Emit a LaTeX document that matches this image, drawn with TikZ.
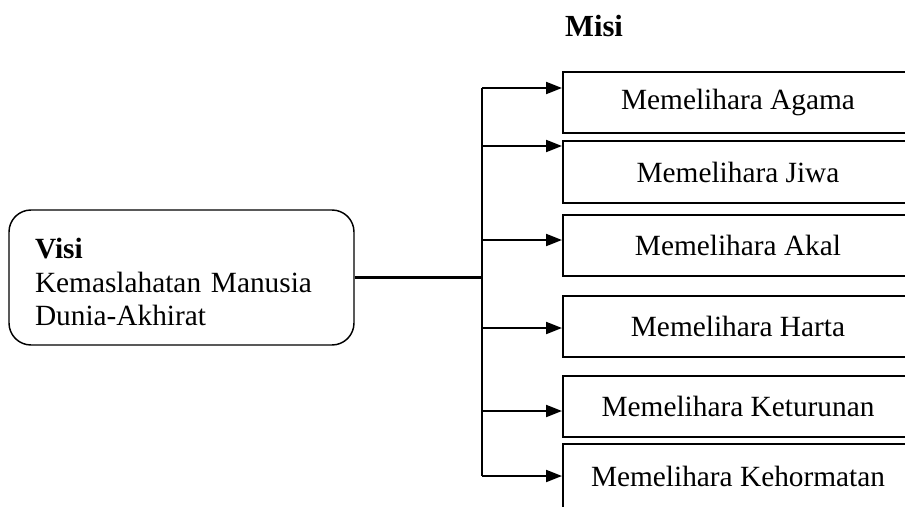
\documentclass[tikz,border=0pt]{standalone}
\usepackage{fontspec}
\setmainfont{Liberation Serif}
\usetikzlibrary{arrows.meta}

\begin{document}
\begin{tikzpicture}[x=0.75pt, y=-0.75pt,
  misibox/.style={draw, line width=1.5pt, rectangle, minimum width=262.5pt, minimum height=46pt, inner sep=0pt, font=\fontsize{22}{25}\selectfont},
  visibox/.style={draw, line width=1.1pt, rectangle, rounded corners=16.5pt, text width=219.75pt, inner xsep=19.5pt, minimum height=101.25pt, align=left, font=\fontsize{22}{25}\selectfont},
  arr/.style={-{Triangle[length=12pt, width=9pt]}, line width=1.5pt},
  trunk/.style={line width=1.6pt}]

\path[use as bounding box, clip] (0,0) rectangle (905,506);

% Misi heading
\node[font=\fontsize{23}{25}\selectfont\bfseries] (misi) at (594,26) {Misi};

% Visi
\node[visibox] (visi) at (181.5,277.5) {\rule{0pt}{22pt}\textbf{Visi}\\Kemaslahatan Manusia\\Dunia-Akhirat};

% Misi boxes
\node[misibox, minimum height=45.75pt] (m1) at (738,102.5) {Memelihara Agama};
\node[misibox, minimum height=46.5pt] (m2) at (738,172) {Memelihara Jiwa};
\node[misibox, minimum height=45.75pt] (m3) at (738,245.5) {Memelihara Akal};
\node[misibox, minimum height=45.75pt] (m4) at (738,326.5) {Memelihara Harta};
\node[misibox, minimum height=45.75pt] (m5) at (738,406.5) {Memelihara Keturunan};
\node[misibox, minimum height=48pt] (m6) at (738,476) {Memelihara Kehormatan};

% trunk points
\coordinate (t1) at (482,88);
\coordinate (t2) at (482,146);
\coordinate (t3) at (482,240);
\coordinate (t4) at (482,328);
\coordinate (t5) at (482,411);
\coordinate (t6) at (482,476);

\draw[trunk] (t1) -- (t6);
\draw[trunk] (visi.east) -- (visi.east -| t1);

\draw[arr] (t1) -- (t1 -| m1.west);
\draw[arr] (t2) -- (t2 -| m2.west);
\draw[arr] (t3) -- (t3 -| m3.west);
\draw[arr] (t4) -- (t4 -| m4.west);
\draw[arr] (t5) -- (t5 -| m5.west);
\draw[arr] (t6) -- (t6 -| m6.west);

\end{tikzpicture}
\end{document}
